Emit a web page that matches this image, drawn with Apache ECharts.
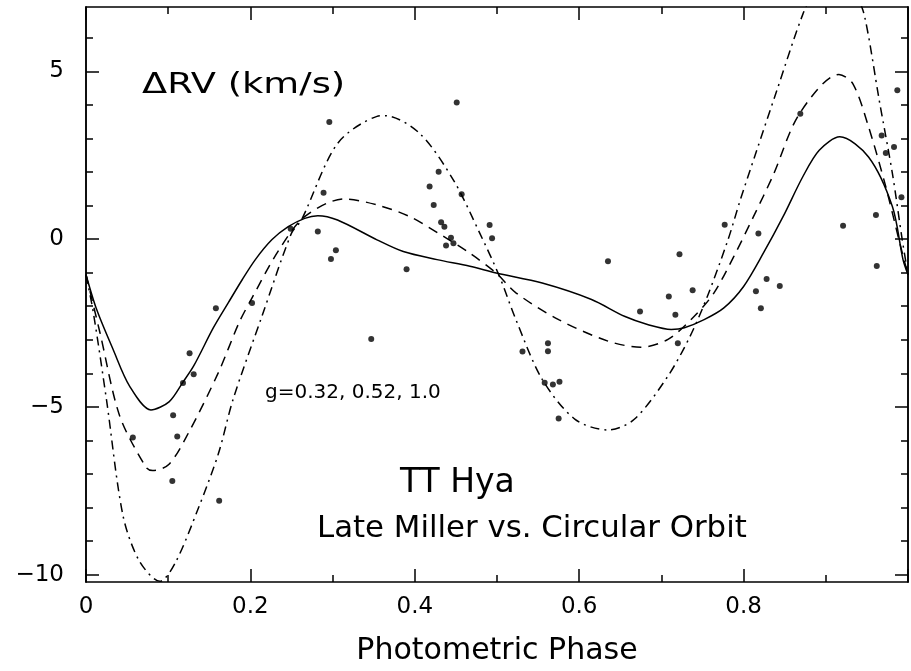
<!DOCTYPE html>
<html lang="en">
<head>
    <meta charset="UTF-8">
    <script type="text/javascript" src="https://cdn.jsdelivr.net/npm/echarts@6.0.0/dist/echarts.min.js"></script>
    <style>
        html, body {
            margin: 0;
            overflow: hidden;
            background: #fff;
        }
        #viewport {
            position: absolute;
            left: 0px;
            top: 0px;
            width: 911px;
            height: 671px;
        }
    </style>
</head>
<body>
<div id="viewport"></div>
<script>
    // observed Delta RV points (phase, km/s)
    var obsPhase = [0.057, 0.106, 0.111, 0.105, 0.162, 0.118, 0.126, 0.131, 0.158, 0.202,
        0.249, 0.451, 0.296, 0.289, 0.282, 0.304, 0.298, 0.347, 0.390, 0.429,
        0.418, 0.423, 0.457, 0.432, 0.436, 0.444, 0.447, 0.438, 0.491, 0.494,
        0.635, 0.674, 0.722, 0.709, 0.717, 0.738, 0.720, 0.777, 0.818, 0.828,
        0.815, 0.821, 0.844, 0.869, 0.562, 0.562, 0.531, 0.558, 0.568, 0.576,
        0.575, 0.921, 0.961, 0.962, 0.987, 0.968, 0.973, 0.983, 0.992];
    var obsRV = [-5.91, -5.25, -5.88, -7.21, -7.80, -4.29, -3.40, -4.03, -2.06, -1.90,
        0.31, 4.07, 3.49, 1.38, 0.23, -0.33, -0.59, -2.98, -0.90, 2.01,
        1.57, 1.02, 1.34, 0.50, 0.37, 0.04, -0.12, -0.19, 0.42, 0.03,
        -0.66, -2.16, -0.45, -1.71, -2.25, -1.52, -3.10, 0.43, 0.17, -1.19,
        -1.55, -2.06, -1.40, 3.74, -3.10, -3.34, -3.35, -4.28, -4.33, -4.25,
        -5.35, 0.40, 0.72, -0.80, 4.44, 3.09, 2.57, 2.75, 1.25];

    // model curve g=0.32 (solid)
    var g032Phase = [0, 0.013, 0.033, 0.053, 0.079, 0.101, 0.118, 0.131, 0.155, 0.173,
        0.190, 0.206, 0.226, 0.246, 0.266, 0.282, 0.306, 0.354, 0.386, 0.427,
        0.467, 0.499, 0.555, 0.615, 0.655, 0.684, 0.712, 0.728, 0.752, 0.776,
        0.800, 0.824, 0.848, 0.872, 0.892, 0.917, 0.952, 0.981, 0.994, 1.0];
    var g032RV = [-1.06, -2.10, -3.29, -4.38, -5.09, -4.85, -4.26, -3.78, -2.64, -1.90,
        -1.21, -0.61, -0.02, 0.37, 0.62, 0.70, 0.57, -0.02, -0.37, -0.61,
        -0.81, -1.01, -1.31, -1.80, -2.30, -2.55, -2.69, -2.64, -2.40, -2.05,
        -1.41, -0.42, 0.67, 1.86, 2.65, 3.05, 2.45, 0.97, -0.62, -1.06];

    // model curve g=0.52 (dashed)
    var g052Phase = [0, 0.017, 0.041, 0.073, 0.081, 0.101, 0.125, 0.161, 0.186, 0.202,
        0.234, 0.266, 0.314, 0.354, 0.394, 0.435, 0.467, 0.499, 0.523, 0.575,
        0.635, 0.675, 0.708, 0.740, 0.764, 0.788, 0.812, 0.836, 0.868, 0.916,
        0.933, 0.952, 0.973, 0.989, 1.0];
    var g052RV = [-1.06, -2.79, -5.27, -6.80, -6.90, -6.71, -5.76, -3.98, -2.50, -1.75,
        -0.35, 0.67, 1.20, 1.02, 0.67, 0.08, -0.42, -1.01, -1.60, -2.40,
        -3.04, -3.22, -2.99, -2.30, -1.60, -0.52, 0.67, 1.91, 3.74, 4.91,
        4.63, 3.35, 1.56, -0.02, -1.06];

    // model curve g=1.0 (dash-dot)
    var g100Phase = [0, 0.009, 0.025, 0.045, 0.065, 0.090, 0.109, 0.137, 0.161, 0.179,
        0.214, 0.250, 0.262, 0.306, 0.354, 0.364, 0.406, 0.447, 0.479, 0.503,
        0.523, 0.555, 0.595, 0.635, 0.667, 0.708, 0.735, 0.756, 0.781, 0.796,
        0.814, 0.840, 0.872, 0.890, 0.905, 0.920, 0.935, 0.947, 0.965, 0.981,
        0.993, 1.0];
    var g100RV = [-1.06, -2.20, -4.80, -8.24, -9.60, -10.20, -9.63, -8.00, -6.40, -4.77,
        -2.30, 0.18, 0.57, 2.85, 3.66, 3.68, 3.15, 1.76, 0.18, -1.11,
        -2.40, -4.18, -5.37, -5.69, -5.37, -4.08, -2.89, -1.70, -0.02, 1.17,
        2.50, 4.40, 6.70, 7.60, 7.95, 7.90, 7.40, 6.66, 4.14, 1.96,
        -0.02, -1.06];

    var yMajor = [-10, -5, 0, 5];
    var yMinor = [-10, -9, -8, -7, -6, -5, -4, -3, -2, -1, 0, 1, 2, 3, 4, 5, 6];

    function pairs(xs, ys) {
        return xs.map(function (x, i) { return [x, ys[i]]; });
    }

    var font = 'DejaVu Sans';
    var yMin = -10.22, yMax = 6.92;

    function yAxisOpt(pos, values, len, labels) {
        return {
            type: 'value', position: pos, min: yMin, max: yMax,
            axisLine: {show: true, lineStyle: {color: '#000', width: 1.5}},
            axisTick: {show: true, inside: true, length: len, customValues: values,
                lineStyle: {color: '#000', width: 1.5}},
            axisLabel: labels ? {
                show: true, customValues: yMajor, margin: 22,
                color: '#000', fontFamily: font, fontSize: 23,
                formatter: function (v) { return v < 0 ? '\u2212' + Math.abs(v) : String(v); }
            } : {show: false},
            splitLine: {show: false}
        };
    }

    function xAxisOpt(pos, labels) {
        var o = {
            type: 'value', position: pos, min: 0, max: 1, interval: 0.2,
            axisLine: {show: true, onZero: false, lineStyle: {color: '#000', width: 1.5}},
            axisTick: {show: true, inside: true, length: 13, lineStyle: {color: '#000', width: 1.5}},
            minorTick: {show: true, splitNumber: 2, length: 7, lineStyle: {color: '#000', width: 1.5}},
            axisLabel: {show: false},
            splitLine: {show: false}
        };
        if (labels) {
            o.axisLabel = {
                show: true, margin: 14, color: '#000', fontFamily: font, fontSize: 23,
                formatter: function (v) { return v >= 1 ? '' : String(+v.toFixed(1)); }
            };
            o.name = 'Photometric Phase';
            o.nameLocation = 'middle';
            o.nameGap = 54;
            o.nameTextStyle = {color: '#000', fontFamily: font, fontSize: 30};
        }
        return o;
    }

    var myChart = echarts.init(document.getElementById('viewport'));
    var option = {
        animation: false,
        backgroundColor: '#fff',
        grid: {left: 86, right: -5, top: 7, bottom: 87, containLabel: false},
        xAxis: [xAxisOpt('bottom', true), xAxisOpt('top', false)],
        yAxis: [
            yAxisOpt('left', yMajor, 13, true),
            yAxisOpt('left', yMinor, 7, false),
            yAxisOpt('right', yMajor, 13, false),
            yAxisOpt('right', yMinor, 7, false)
        ],
        series: [
            {
                type: 'line', data: pairs(g032Phase, g032RV), smooth: 0.3,
                showSymbol: false, lineStyle: {color: '#000', width: 1.5, type: 'solid'}
            },
            {
                type: 'line', data: pairs(g052Phase, g052RV), smooth: 0.3,
                showSymbol: false, lineStyle: {color: '#000', width: 1.5, type: [10, 7]}
            },
            {
                type: 'line', data: pairs(g100Phase, g100RV), smooth: 0.3,
                showSymbol: false, lineStyle: {color: '#000', width: 1.5, type: [9, 5, 2, 5]}
            },
            {
                type: 'scatter', data: pairs(obsPhase, obsRV), symbolSize: 6,
                itemStyle: {color: '#000'}
            }
        ],
        graphic: [
            {type: 'text', x: 142, y: 85, scaleX: 1.27,
                style: {text: '\u0394RV (km/s)', font: '29px "DejaVu Sans"', fill: '#000',
                    textAlign: 'left', textVerticalAlign: 'middle'}},
            {type: 'text', x: 265, y: 393,
                style: {text: 'g=0.32, 0.52, 1.0', font: '20px "DejaVu Sans"', fill: '#000',
                    textAlign: 'left', textVerticalAlign: 'middle'}},
            {type: 'text', x: 400, y: 483,
                style: {text: 'TT Hya', font: '33px "DejaVu Sans"', fill: '#000',
                    textAlign: 'left', textVerticalAlign: 'middle'}},
            {type: 'text', x: 317, y: 529,
                style: {text: 'Late Miller vs. Circular Orbit', font: '30.8px "DejaVu Sans"', fill: '#000',
                    textAlign: 'left', textVerticalAlign: 'middle'}}
        ]
    };
    myChart.setOption(option);
</script>
</body>
</html>
